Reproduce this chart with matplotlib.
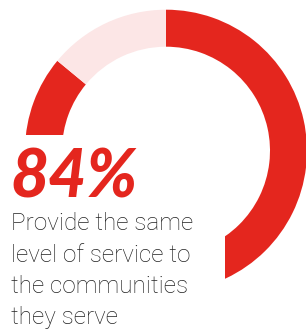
import matplotlib
matplotlib.use("Agg")
import matplotlib.pyplot as plt
from matplotlib.patches import Rectangle

# Data
categories = ["Same level of service", "Other"]
ring_values = [86, 14]          # arc shares as drawn in the reference
headline = "84%"
body_lines = ["Provide the same", "level of service to", "the communities", "they serve"]

RED = "#E4261E"
PINK = "#FCE6E6"
TEXT = "#222222"

W, H = 306, 331
fig = plt.figure(figsize=(W / 100, H / 100), dpi=100)
fig.patch.set_facecolor("white")

cx, cy, r_out, r_in = 166, 150.7, 141, 104
ax = fig.add_axes([(cx - r_out) / W, (H - cy - r_out) / H, 2 * r_out / W, 2 * r_out / H])
ax.pie(ring_values, colors=[RED, PINK], startangle=90, counterclock=False,
       radius=1, wedgeprops=dict(width=(r_out - r_in) / r_out, linewidth=0))
ax.set_xlim(-1, 1)
ax.set_ylim(-1, 1)
ax.axis("off")

# white panel behind the text
ax.add_patch(Rectangle((0, 0), 225 / W, (H - 135) / H, transform=fig.transFigure,
                       facecolor="white", edgecolor="none", clip_on=False, zorder=5))

fig.text(10 / W, (H - 197) / H, headline, color=RED, fontsize=47.5, fontweight="black",
         fontstyle="italic", family="Lato", va="baseline", ha="left", zorder=10)

baselines = [230, 262, 293, 324]
for line, b in zip(body_lines, baselines):
    fig.text(11 / W, (H - b) / H, line, color=TEXT, fontsize=17.5, fontweight="light",
             family="Roboto", va="baseline", ha="left", zorder=10)

fig.savefig("out.png", dpi=100, facecolor="white")
